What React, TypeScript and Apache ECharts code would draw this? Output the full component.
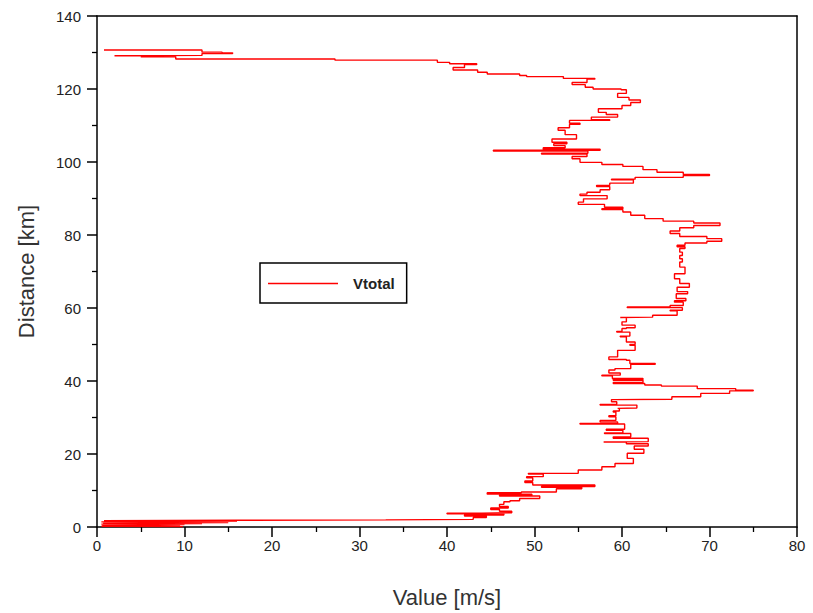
import React, { useEffect, useRef } from "react";
import * as echarts from "echarts";

const seriesName = "Vtotal";
const xTicks = { min: 0, max: 80, interval: 10 };
const yTicks = { min: 0, max: 140, interval: 20 };

// Vtotal value [m/s] and distance [km], traced bottom to top
const values: number[] = [
  9.8, 0.5, 9.5, 0.6, 10, 0.5, 12, 0.7, 15, 0.5, 16, 0.8, 16.2, 33, 43, 44.5, 42, 46.5, 40, 44,
  47.4, 46, 45, 47, 46, 46.5, 47.2, 48.3, 50.6, 46, 49.7, 44.6, 48.5, 52.5, 55.4, 50.8, 56.9, 49.8, 48.9, 49.8,
  49.1, 51, 49.3, 55, 57.7, 59.2, 61.3, 60.6, 62.5, 61.4, 63, 60.5, 57.9, 63, 59, 61, 58, 60.1, 58.2, 60.3,
  55.2, 59.5, 57.5, 59.3, 58.5, 59.3, 59, 59.7, 59.5, 61.7, 57.5, 59.4, 58.8, 59.2, 65.7, 69, 72.3, 75, 73, 68.6,
  64.5, 62.6, 59, 62.4, 59, 62.4, 58.9, 57.7, 59.8, 58.5, 59.2, 61, 63.8, 60.9, 60.5, 58.5, 59.5, 61.5, 60.9, 61.5,
  60.5, 59.8, 60.9, 59.4, 60, 60.5, 61.5, 60, 60.5, 59.8, 63.5, 66.3, 65.5, 66.9, 60.6, 65.5, 67, 66, 67.3, 66.2,
  67.5, 66.3, 67.7, 66.6, 66, 67.2, 66.6, 66.9, 66.6, 66.9, 66.6, 67.2, 66.3, 67.2, 69.7, 71.4, 69.7, 66.6, 65.5, 66.6,
  68.2, 71.2, 68.2, 64.7, 62.6, 61, 60.1, 57.7, 60.1, 58, 55, 55.6, 58.3, 55.2, 56, 57.5, 58.6, 57.1, 58.6, 61.3,
  58.8, 61.5, 67, 70, 67, 64, 62.4, 60.1, 57.7, 55.2, 54.3, 56, 50.8, 56.1, 45.3, 57.5, 51, 53.5, 52.2, 53.7,
  52, 54.8, 53.5, 52.7, 54, 55.2, 54, 58.6, 56.5, 59.5, 58.2, 57.3, 60, 61, 62.1, 60.8, 59.5, 60.5, 59.9, 56.7,
  55.8, 54.3, 56, 56.9, 53.3, 49.1, 48.3, 44.6, 43.5, 40.7, 42, 43.4, 40.3, 38.9, 27.2, 9, 5, 9, 2, 12,
  15.5, 14.3, 12, 0.8,
];
const distances: number[] = [
  0.1, 0.2, 0.35, 0.5, 0.65, 0.8, 0.95, 1.1, 1.25, 1.4, 1.55, 1.7, 1.85, 1.95, 2.1, 2.6, 3.0, 3.3, 3.6, 3.8,
  3.9, 4.3, 4.8, 5.2, 5.6, 6.2, 6.9, 7.2, 7.8, 8.5, 8.7, 9.0, 9.4, 9.6, 10.5, 10.9, 11.1, 11.5, 12.2, 12.6,
  13.5, 13.8, 14.5, 14.7, 15.6, 16.5, 17.4, 18.8, 20.2, 21.3, 22.2, 22.8, 23.3, 23.4, 24.3, 24.7, 25.6, 25.8, 26.5, 26.8,
  28.2, 28.4, 28.8, 29.2, 30.2, 30.5, 31.5, 31.8, 32.5, 32.6, 33.4, 33.6, 34.3, 34.9, 35.0, 35.7, 36.6, 37.3, 37.5, 37.9,
  38.6, 38.9, 39.3, 39.6, 40.2, 40.4, 40.7, 41.4, 41.6, 42.2, 43.0, 43.4, 44.6, 44.8, 45.7, 45.9, 46.6, 48.4, 49.8, 50.0,
  50.7, 52.1, 52.3, 53.4, 53.6, 54.4, 54.6, 55.3, 56.2, 57.4, 57.5, 58.0, 59.2, 59.4, 60.1, 60.3, 60.7, 61.6, 62.0, 62.6,
  63.9, 64.5, 65.7, 66.7, 68.0, 69.4, 71.2, 72.6, 73.5, 74.4, 75.3, 76.3, 76.8, 77.2, 77.8, 78.3, 79.0, 79.6, 80.4, 81.1,
  82.0, 82.6, 83.3, 83.8, 84.5, 85.4, 86.3, 87.0, 87.2, 87.6, 88.4, 89.0, 89.9, 90.8, 91.2, 91.7, 92.4, 93.3, 93.6, 94.2,
  95.1, 95.3, 95.8, 96.3, 96.6, 97.2, 97.9, 98.8, 99.3, 99.9, 100.9, 101.5, 102.2, 102.4, 103.0, 103.2, 103.5, 103.9, 104.5, 105.0,
  105.4, 106.3, 107.5, 108.7, 109.4, 110.3, 110.6, 111.4, 111.6, 112.3, 113.0, 113.6, 114.6, 115.5, 116.3, 117.0, 117.7, 118.8, 119.8, 120.0,
  120.5, 121.2, 121.8, 122.7, 122.9, 123.4, 123.7, 124.1, 124.6, 125.2, 125.9, 126.7, 126.9, 127.3, 127.9, 128.2, 128.8, 128.9, 129.1, 129.2,
  129.7, 129.9, 130.1, 130.7,
];

const FONT = "Liberation Sans, Arial, sans-serif";

export default function App() {
  const ref = useRef<HTMLDivElement>(null);
  useEffect(() => {
    if (!ref.current) return;
    const chart = echarts.init(ref.current, undefined, { renderer: "svg" });
    const data = values.map((v, i) => [v, distances[i]]);
    chart.setOption({
      animation: false,
      backgroundColor: "#ffffff",
      grid: {
        left: 97,
        right: 16,
        top: 16,
        bottom: 86,
        containLabel: false,
        outerBoundsMode: "none",
      },
      legend: {
        left: 260,
        top: 263,
        orient: "vertical",
        backgroundColor: "#ffffff",
        borderColor: "#000000",
        borderWidth: 1.5,
        borderRadius: 0,
        padding: [13, 12, 12, 8],
        itemWidth: 70,
        itemHeight: 1.6,
        icon: "rect",
        textStyle: {
          fontFamily: FONT,
          fontSize: 15,
          fontWeight: "bold",
          color: "#222",
          padding: [0, 0, 0, 10],
        },
        data: [{ name: seriesName, icon: "rect" }],
      },
      xAxis: [
        {
          type: "value",
          min: xTicks.min,
          max: xTicks.max,
          interval: xTicks.interval,
          name: "Value [m/s]",
          nameLocation: "middle",
          nameGap: 59,
          nameTextStyle: { fontFamily: FONT, fontSize: 22, color: "#333" },
          axisLine: { show: true, lineStyle: { color: "#000", width: 1.5 } },
          axisTick: { show: true, length: 10, lineStyle: { color: "#000", width: 1.5 } },
          minorTick: { show: true, splitNumber: 2, length: 5, lineStyle: { color: "#000", width: 1.3 } },
          axisLabel: { fontFamily: FONT, fontSize: 15, color: "#222", margin: 11 },
          splitLine: { show: false },
        },
        {
          type: "value",
          position: "top",
          min: xTicks.min,
          max: xTicks.max,
          axisLine: { show: true, onZero: false, lineStyle: { color: "#000", width: 1.5 } },
          axisTick: { show: false },
          axisLabel: { show: false },
          splitLine: { show: false },
        },
      ],
      yAxis: [
        {
          type: "value",
          min: yTicks.min,
          max: yTicks.max,
          interval: yTicks.interval,
          name: "Distance [km]",
          nameLocation: "middle",
          nameGap: 60,
          nameTextStyle: { fontFamily: FONT, fontSize: 22, color: "#333" },
          axisLine: { show: true, lineStyle: { color: "#000", width: 1.5 } },
          axisTick: { show: true, length: 10, lineStyle: { color: "#000", width: 1.5 } },
          minorTick: { show: true, splitNumber: 2, length: 5, lineStyle: { color: "#000", width: 1.3 } },
          axisLabel: { fontFamily: FONT, fontSize: 15, color: "#222", margin: 16 },
          splitLine: { show: false },
        },
        {
          type: "value",
          position: "right",
          min: yTicks.min,
          max: yTicks.max,
          axisLine: { show: true, onZero: false, lineStyle: { color: "#000", width: 1.5 } },
          axisTick: { show: false },
          axisLabel: { show: false },
          splitLine: { show: false },
        },
      ],
      series: [
        {
          name: seriesName,
          type: "line",
          xAxisIndex: 0,
          yAxisIndex: 0,
          data,
          step: "start",
          symbol: "none",
          showSymbol: false,
          smooth: false,
          lineStyle: { color: "#ff0000", width: 1.4 },
          itemStyle: { color: "#ff0000" },
        },
      ],
    });
    return () => chart.dispose();
  }, []);
  return (
    <div
      ref={ref}
      style={{ position: "absolute", left: 0, top: 0, width: 813, height: 613 }}
    />
  );
}
